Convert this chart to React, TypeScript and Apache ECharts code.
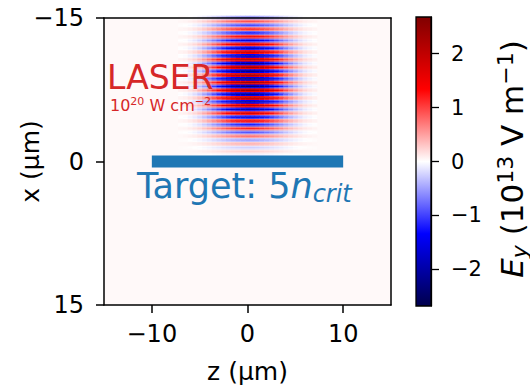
import React, { useEffect, useRef } from "react";
import * as echarts from "echarts";

const FONT = "DejaVu Sans";
const zTicks = [-10, 0, 10];
const fieldTicks = [-2, -1, 0, 1, 2];
const fieldMin = -2.68;
const fieldMax = 2.68;
const seismic = ["#00004c", "#0000ff", "#ffffff", "#ff0000", "#800000"];

// column centres (z, µm) and the read transverse envelope of the pulse
const zCols = [-7, -6.5, -6, -5.5, -5, -4.5, -4, -3.5, -3, -2.5, -2, -1.5, -1, -0.5, 0, 0.5, 1, 1.5, 2, 2.5, 3, 3.5, 4, 4.5, 5, 5.5, 6, 6.5, 7];
const zEnvelope = [0.02, 0.03, 0.06, 0.1, 0.16, 0.24, 0.33, 0.44, 0.55, 0.66, 0.76, 0.85, 0.92, 0.97, 1.0, 0.99, 0.95, 0.89, 0.81, 0.71, 0.6, 0.49, 0.38, 0.28, 0.2, 0.13, 0.08, 0.05, 0.03];
const colStep = 0.5;

// half-period stripes along z = 0: centre positions (x, µm) and peak E_y (10^13 V/m)
const stripeTop = -15.04;
const stripeStep = 0.4;
const stripePeak = [
  -0.78, 0.9, -1.02, 1.15, -1.29, 1.45, -1.6, 1.75, -1.89, 2.02,
  -2.13, 2.23, -2.31, 2.37, -2.41, 2.44, -2.45, 2.45, -2.42, 2.38,
  -2.32, 2.24, -2.15, 2.04, -1.91, 1.77, -1.62, 1.47, -1.32, 1.14,
  -0.93, 0.72, -0.54, 0.4, -0.29, 0.2, -0.13, 0.08,
];
// relative strength across one stripe (three sub-rows)
const stripeProfile = [0.65, 1, 0.65];
// faint residual field over the whole box
const backgroundField = 0.03;

const targetZ = [-10, 10];
const targetX = [0, 0];

const subStep = stripeStep / stripeProfile.length;
const cells: number[][] = [];
stripePeak.forEach((peak, s) => {
  const xc = stripeTop + s * stripeStep;
  stripeProfile.forEach((p, k) => {
    const x = xc + (k - 1) * subStep;
    zCols.forEach((z, j) => {
      cells.push([z, x, peak * p * zEnvelope[j] + backgroundField]);
    });
  });
});

const minus = (v: number) => String(v).replace("-", "\u2212");

export default function App() {
  const ref = useRef<HTMLDivElement>(null);
  useEffect(() => {
    if (!ref.current) return;
    const chart = echarts.init(ref.current, null, { renderer: "svg" });
    const red = "#d62728";
    const blue = "#1f77b4";
    chart.setOption({
      animation: false,
      backgroundColor: "#ffffff",
      textStyle: { fontFamily: FONT },
      grid: [
        { left: 104, top: 18, width: 287, height: 287, show: true, backgroundColor: "#fff9f9", borderWidth: 0, outerBoundsMode: "none", containLabel: false },
        {
          left: 416, top: 17, width: 15, height: 289, show: true, borderColor: "#000", borderWidth: 1.3,
          outerBoundsMode: "none", containLabel: false,
          backgroundColor: {
            type: "linear", x: 0, y: 0, x2: 0, y2: 1,
            colorStops: [
              { offset: 0, color: seismic[4] },
              { offset: 0.25, color: seismic[3] },
              { offset: 0.5, color: seismic[2] },
              { offset: 0.75, color: seismic[1] },
              { offset: 1, color: seismic[0] },
            ],
          },
        },
      ],
      visualMap: {
        type: "continuous", show: false, min: fieldMin, max: fieldMax, dimension: 2, seriesIndex: 0,
        inRange: { color: seismic },
      },
      xAxis: [
        {
          gridIndex: 0, type: "value", min: -15, max: 15, z: 5,
          axisLine: { show: true, onZero: false, lineStyle: { color: "#000", width: 1.5 } },
          axisTick: { show: true, customValues: zTicks, length: 8, lineStyle: { color: "#000", width: 1.5 } },
          axisLabel: { customValues: zTicks, formatter: minus, fontSize: 24, color: "#000", margin: 17, fontFamily: FONT },
          splitLine: { show: false },
          name: "z (µm)", nameLocation: "middle", nameGap: 54,
          nameTextStyle: { fontSize: 25, color: "#000", fontFamily: FONT },
        },
        { gridIndex: 1, type: "value", show: false, min: 0, max: 1 },
        {
          gridIndex: 0, type: "value", position: "top", min: -15, max: 15, z: 5,
          axisLine: { show: true, onZero: false, lineStyle: { color: "#000", width: 1.5 } },
          axisTick: { show: false }, axisLabel: { show: false }, splitLine: { show: false },
        },
      ],
      yAxis: [
        {
          gridIndex: 0, type: "value", inverse: true, min: -15, max: 15, interval: 15, z: 5,
          axisLine: { show: true, onZero: false, lineStyle: { color: "#000", width: 1.5 } },
          axisTick: { show: true, length: 8, lineStyle: { color: "#000", width: 1.5 } },
          axisLabel: { formatter: minus, fontSize: 24, color: "#000", margin: 20, fontFamily: FONT },
          splitLine: { show: false },
          name: "x (µm)", nameLocation: "middle", nameGap: 61, nameMoveOverlap: false,
          nameTextStyle: { fontSize: 25, color: "#000", fontFamily: FONT },
        },
        {
          gridIndex: 1, type: "value", position: "right", min: fieldMin, max: fieldMax, z: 5,
          axisLine: { show: true, onZero: false, lineStyle: { color: "#000", width: 1.3 } },
          axisTick: { show: true, customValues: fieldTicks, length: 8, lineStyle: { color: "#000", width: 1.3 } },
          axisLabel: { customValues: fieldTicks, formatter: minus, fontSize: 21, color: "#000", margin: 20, fontFamily: FONT },
          splitLine: { show: false },
        },
        {
          gridIndex: 0, type: "value", position: "right", inverse: true, min: -15, max: 15, z: 5,
          axisLine: { show: true, onZero: false, lineStyle: { color: "#000", width: 1.5 } },
          axisTick: { show: false }, axisLabel: { show: false }, splitLine: { show: false },
        },
      ],
      series: [
        {
          type: "custom", xAxisIndex: 0, yAxisIndex: 0, clip: true, silent: true, z: 2,
          encode: { x: 0, y: 1 },
          data: cells,
          renderItem: (params: any, api: any) => {
            const z = api.value(0);
            const x = api.value(1);
            const a = api.coord([z - colStep / 2, x - subStep / 2]);
            const b = api.coord([z + colStep / 2, x + subStep / 2]);
            return {
              type: "rect",
              shape: {
                x: Math.min(a[0], b[0]), y: Math.min(a[1], b[1]),
                width: Math.abs(b[0] - a[0]) + 0.4, height: Math.abs(b[1] - a[1]) + 0.4,
              },
              style: { fill: api.visual("color") },
            };
          },
        },
        {
          type: "line", xAxisIndex: 0, yAxisIndex: 0, silent: true, z: 3,
          symbol: "none",
          data: targetZ.map((z, k) => [z, targetX[k]]),
          lineStyle: { color: blue, width: 12, cap: "butt" },
        },
      ],
      graphic: [
        {
          type: "text", x: 107, y: 77, z: 10,
          style: { text: "LASER", fill: red, fontSize: 33, lineHeight: 26, fontFamily: FONT, align: "left", verticalAlign: "middle", textAlign: "left", textVerticalAlign: "middle" },
        },
        {
          type: "text", x: 110, y: 105, z: 10,
          style: {
            text: "10{sup|20} W cm{sup|\u22122}", fill: red, fontSize: 16, lineHeight: 18, fontFamily: FONT,
            align: "left", verticalAlign: "middle", textAlign: "left", textVerticalAlign: "middle",
            rich: { sup: { fontSize: 11, lineHeight: 10, verticalAlign: "top", fill: red, fontFamily: FONT } },
          },
        },
        {
          type: "text", x: 137, y: 186, z: 10,
          style: {
            text: "Target: 5{n|n}{sub|crit}", fill: blue, fontSize: 35, lineHeight: 40, fontFamily: FONT,
            align: "left", verticalAlign: "middle", textAlign: "left", textVerticalAlign: "middle",
            rich: {
              n: { fontSize: 35, lineHeight: 40, fontStyle: "italic", fill: blue, fontFamily: FONT },
              sub: { fontSize: 24, lineHeight: 24, verticalAlign: "bottom", fontStyle: "italic", fill: blue, fontFamily: FONT },
            },
          },
        },
        {
          type: "text", x: 512, y: 159, rotation: Math.PI / 2, z: 10,
          style: {
            text: "{i|E}{sub|y} (10{sup|13} V m{sup|\u22121})", fill: "#000", fontSize: 31, lineHeight: 36, fontFamily: FONT,
            align: "center", verticalAlign: "middle", textAlign: "center", textVerticalAlign: "middle",
            rich: {
              i: { fontSize: 31, lineHeight: 36, fontStyle: "italic", fill: "#000", fontFamily: FONT },
              sub: { fontSize: 22, lineHeight: 22, verticalAlign: "bottom", fontStyle: "italic", fill: "#000", fontFamily: FONT },
              sup: { fontSize: 22, lineHeight: 22, verticalAlign: "top", fill: "#000", fontFamily: FONT },
            },
          },
        },
      ],
    });
    return () => chart.dispose();
  }, []);
  return <div ref={ref} style={{ position: "fixed", left: 0, top: 0, width: 530, height: 385 }} />;
}
